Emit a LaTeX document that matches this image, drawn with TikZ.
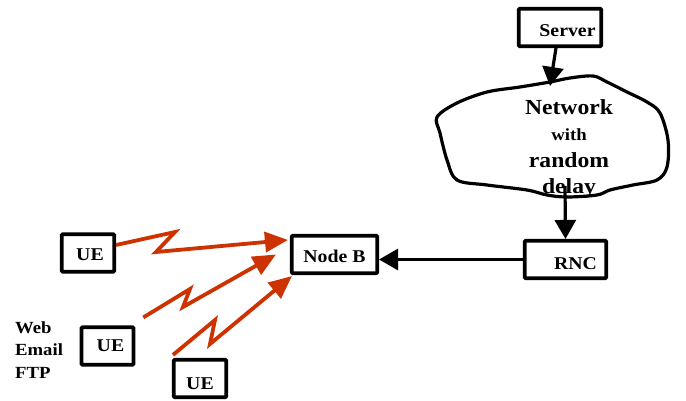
\documentclass[tikz,border=0pt]{standalone}
\usepackage{fontspec}
\setmainfont{Liberation Serif}[FakeStretch=1.1]
\usetikzlibrary{arrows.meta}
\definecolor{linkred}{HTML}{CC3300}
\newcommand{\lowered}[2]{\raisebox{-#1}[\height][\depth]{#2}}
\tikzset{
  box/.style={draw, line width=3.6pt, rounded corners=1pt, inner sep=0pt,
    font=\fontsize{18}{20}\selectfont\bfseries, minimum height=37.5pt},
  plain/.style={line width=3.2pt, -{Triangle[length=19pt,width=21pt]}},
  radio/.style={draw=linkred, line width=3.8pt, line join=miter,
    -{Triangle[length=23pt,width=20pt]}, fill=none},
  cloudline/.style={line width=3.2pt, line join=round},
}
\begin{document}
\begin{tikzpicture}[x=1pt,y=-1pt]
\useasboundingbox[fill=white] (0,0) rectangle (686,401);

% boxes
\node[box, minimum width=82.5pt] (server) at (560,27.5) {\lowered{3.5pt}{\hspace*{15pt}Server}};
\node[box, minimum width=85.5pt] (nodeb) at (334.5,254.5) {\lowered{1.5pt}{Node B}};
\node[box, minimum width=81.5pt] (rnc) at (565.5,259.5) {\lowered{4.5pt}{\hspace*{20pt}RNC}};
\node[box, minimum width=52.5pt] (ue1) at (88,253) {\lowered{2pt}{\hspace*{4pt}UE}};
\node[box, minimum width=52pt] (ue2) at (107.5,346) {\hspace*{6pt}UE};
\node[box, minimum width=52.5pt] (ue3) at (200,378.5) {\lowered{5pt}{UE}};

% network cloud
\draw[cloudline] plot[smooth cycle, tension=0.55] coordinates {
  (437,117) (457,103) (487,92) (520,87) (550,82) (570,78) (593,76)
  (607,82) (627,92) (647,102) (660,113) (668,140) (667,167) (657,180)
  (633,185) (610,190) (597,195) (567,197) (547,195) (527,190) (487,185)
  (457,180) (447,160) (440,133)};
\node[align=center, inner sep=0pt, font=\fontsize{21.5}{26.5}\selectfont\bfseries]
  (net) at (569,149) {Network\\{\fontsize{17}{26.5}\selectfont with}\\random\\delay};
\coordinate (cin) at (550,86);
\coordinate (cout) at (565,186);

% wired links
\draw[plain] ([xshift=-4pt]server.south) -- (cin);
\draw[plain] (cout) -- (rnc.north);
\draw[plain] (rnc.west) -- (rnc.west -| nodeb.east);

% radio links
\draw[radio] ([yshift=8pt]ue1.east) -- (175,232) -- (156,252)
  -- ([shift={(-2pt,-6pt)}]nodeb.north west);
\draw[radio] ([shift={(8pt,8pt)}]ue2.north east) -- (190,289) -- (183,307)
  -- ([xshift=-14pt]nodeb.west);
\draw[radio] ([shift={(1pt,3pt)}]ue3.north west) -- (215,320) -- (210,344)
  -- ([shift={(2pt,-1pt)}]nodeb.south west);

% services
\node[align=left, anchor=west, inner sep=0pt,
  font=\fontsize{17}{22.5}\selectfont\bfseries] (apps) at (15,350) {Web\\Email\\FTP};
\end{tikzpicture}
\end{document}
